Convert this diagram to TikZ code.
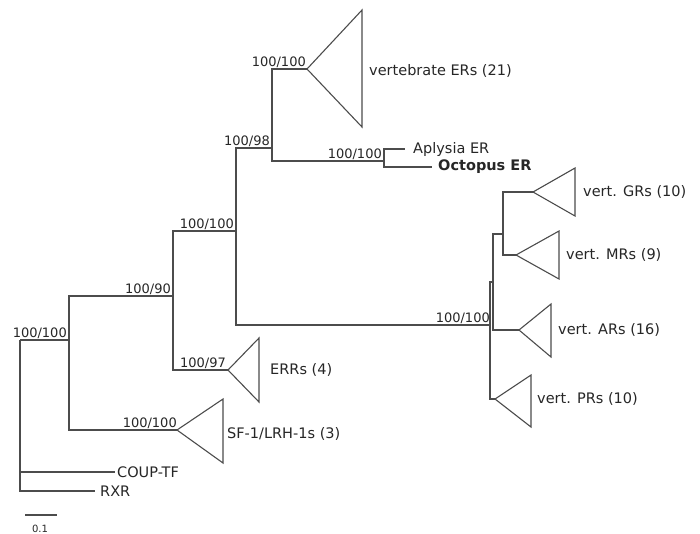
\documentclass[tikz,border=0pt]{standalone}
\usepackage{fontspec}
\setmainfont{DejaVu Sans}
\usetikzlibrary{positioning}

\begin{document}
\begin{tikzpicture}[x=1pt,y=-1pt,
    branch/.style={line width=1.1pt, draw=black!70, line join=miter},
    taxon/.style={anchor=west, inner sep=0pt, text=black!85, font=\fontsize{14.5}{17}\selectfont},
    boot/.style={anchor=base east, inner sep=0pt, text=black!85, xshift=-2pt, yshift=3pt, font=\fontsize{13}{15}\selectfont}]
    \useasboundingbox (0,0) rectangle (700,533);

    % Internal nodes
    \coordinate (n0) at (20,340);
    \coordinate (n1) at (69,340);
    \coordinate (n2) at (173,296);
    \coordinate (n3) at (236,231);
    \coordinate (n4) at (272,148);
    \coordinate (n5) at (384,161);
    \coordinate (n6) at (490,325);
    \coordinate (n7) at (493,282);
    \coordinate (n8) at (503,234);

    % Tips and clade apexes
    \coordinate (coup) at (115,472);
    \coordinate (rxr) at (95,491);
    \coordinate (sf) at (177,430);
    \coordinate (err) at (228,370);
    \coordinate (ver) at (307,69);
    \coordinate (apl) at (405,149);
    \coordinate (oct) at (432,167);
    \coordinate (gr) at (533,192);
    \coordinate (mr) at (516,255);
    \coordinate (ar) at (519,330);
    \coordinate (pr) at (495,399);

    % Branches
    \draw[branch] (n0) -- (n1);
    \draw[branch] (n0) |- (coup);
    \draw[branch] (n0) |- (rxr);
    \draw[branch] (n1) |- (n2);
    \draw[branch] (n1) |- (sf);
    \draw[branch] (n2) |- (n3);
    \draw[branch] (n2) |- (err);
    \draw[branch] (n3) |- (n4);
    \draw[branch] (n3) |- (n6);
    \draw[branch] (n4) |- (ver);
    \draw[branch] (n4) |- (n5);
    \draw[branch] (n5) |- (apl);
    \draw[branch] (n5) |- (oct);
    \draw[branch] (n6) |- (n7);
    \draw[branch] (n6) |- (pr);
    \draw[branch] (n7) |- (n8);
    \draw[branch] (n7) |- (ar);
    \draw[branch] (n8) |- (gr);
    \draw[branch] (n8) |- (mr);

    % Collapsed clades
    \draw[branch] (ver) -- ++(55,-59) -- ++(0,117) -- cycle;
    \draw[branch] (gr) -- ++(42,-24) -- ++(0,48) -- cycle;
    \draw[branch] (mr) -- ++(43,-24) -- ++(0,48) -- cycle;
    \draw[branch] (ar) -- ++(32,-26) -- ++(0,53) -- cycle;
    \draw[branch] (pr) -- ++(36,-24) -- ++(0,52) -- cycle;
    \draw[branch] (err) -- ++(31,-32) -- ++(0,64) -- cycle;
    \draw[branch] (sf) -- ++(46,-31) -- ++(0,64) -- cycle;

    % Taxon labels
    \node[taxon] (lver) at (369,71) {vertebrate ERs (21)};
    \node[taxon] (lapl) at (413,149) {Aplysia ER};
    \node[taxon, font=\fontsize{14.5}{17}\selectfont\bfseries] (loct) at (438,167) {Octopus ER};
    \node[taxon] (lgr) at (583,192) {vert. GRs (10)};
    \node[taxon] (lmr) at (566,255) {vert. MRs (9)};
    \node[taxon] (lar) at (558,330) {vert. ARs (16)};
    \node[taxon] (lpr) at (537,399) {vert. PRs (10)};
    \node[taxon] (lerr) at (270,370) {ERRs (4)};
    \node[taxon] (lsf) at (227,434) {SF-1/LRH-1s (3)};
    \node[taxon] (lcoup) at (117,472) {COUP-TF};
    \node[taxon] (lrxr) at (100,491) {RXR};

    % Bootstrap support
    \node[boot] (b1) at (n1) {100/100};
    \node[boot] (b2) at (n2) {100/90};
    \node[boot] (b3) at (n3) {100/100};
    \node[boot] (b4) at (n4) {100/98};
    \node[boot, xshift=1pt] (b5) at (ver) {100/100};
    \node[boot] (b6) at (n5) {100/100};
    \node[boot, xshift=2pt] (b7) at (n6) {100/100};
    \node[boot] (b8) at (err) {100/97};
    \node[boot, xshift=2pt] (b9) at (sf) {100/100};

    % Scale bar
    \coordinate (s0) at (25,515);
    \coordinate (s1) at (57,515);
    \draw[branch] (s0) -- (s1);
    \node[anchor=base, inner sep=0pt, text=black!85, font=\fontsize{10}{12}\selectfont] (lscale) at (40,532) {0.1};
\end{tikzpicture}
\end{document}
